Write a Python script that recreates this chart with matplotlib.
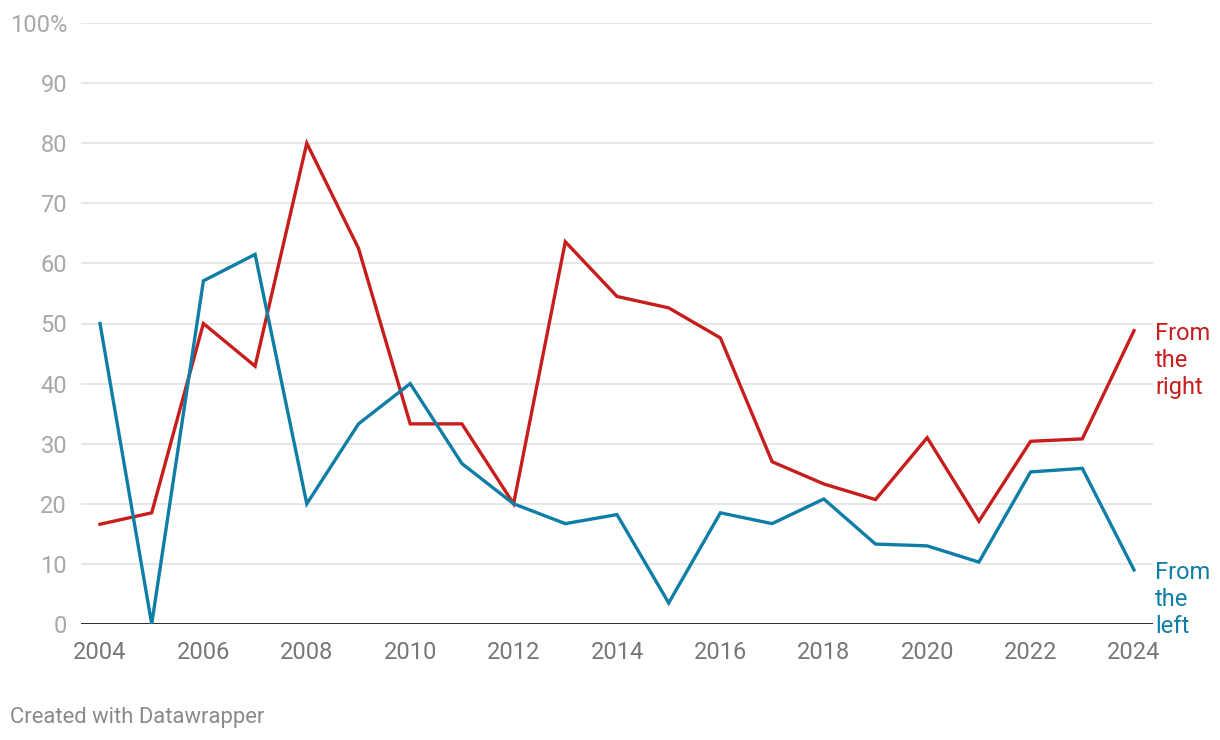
import matplotlib.pyplot as plt
import numpy as np

plt.rcParams['font.family'] = ['Roboto', 'DejaVu Sans']

years = np.arange(2004, 2025)
from_right = [16.6, 18.5, 50.0, 42.9, 80.0, 62.5, 33.3, 33.3, 20.0, 63.6, 54.5,
              52.6, 47.6, 27.0, 23.3, 20.7, 31.0, 17.1, 30.4, 30.8, 48.8]
from_left = [50.0, 0.0, 57.1, 61.5, 20.0, 33.3, 40.0, 26.7, 20.0, 16.7, 18.2,
             3.5, 18.5, 16.7, 20.8, 13.3, 13.0, 10.3, 25.3, 25.9, 9.0]

red = '#c71e1d'
blue = '#0f7ea6'

fig = plt.figure(figsize=(12.2, 7.4), dpi=100)
ax = fig.add_axes([81 / 1220, 116 / 740, (1153 - 81) / 1220, (624 - 23) / 740])

# grid
for v in range(10, 101, 10):
    ax.axhline(v, color='#e3e3e3', lw=1.2, zorder=0)
ax.axhline(0, color='#1a1a1a', lw=2, zorder=1)

ax.plot(years, from_right, color=red, lw=2.4, solid_joinstyle='miter', zorder=3)
ax.plot(years, from_left, color=blue, lw=2.4, solid_joinstyle='miter', zorder=3)

ax.set_xlim(2004 - 19 / 51.7, 2024 + 19 / 51.7)
ax.set_ylim(0, 100)

for s in ax.spines.values():
    s.set_visible(False)

ax.set_xticks(range(2004, 2025, 2))
ax.set_xticklabels([str(y) for y in range(2004, 2025, 2)])
ax.set_yticks(range(0, 101, 10))
ax.set_yticklabels([str(v) for v in range(0, 100, 10)] + ['100%'])
ax.tick_params(axis='x', length=0, pad=12.5, labelsize=17, labelcolor='#777777')
ax.tick_params(axis='y', length=0, pad=10, labelsize=17, labelcolor='#a8a8a8')

# end labels, first line centred on the last point
for vals, label, col in [(from_right, 'From\nthe\nright', red),
                         (from_left, 'From\nthe\nleft', blue)]:
    ax.annotate(label, xy=(1.0, vals[-1]), xycoords=ax.get_yaxis_transform(),
                xytext=(1.5, 6.5), textcoords='offset points',
                color=col, fontsize=17, va='top', ha='left', linespacing=1.23)

fig.text(10 / 1220, 1 - 717 / 740, 'Created with Datawrapper', color='#8a8a8a',
         fontsize=15.8, va='center', ha='left')

fig.savefig('out.png', dpi=100)
